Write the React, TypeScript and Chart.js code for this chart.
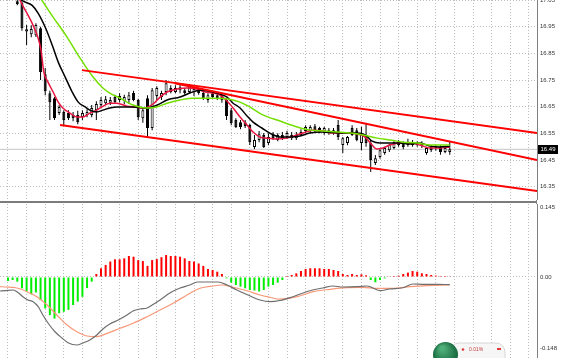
import React, { useEffect, useRef } from "react";
import { Chart, registerables } from "chart.js";

Chart.register(...registerables);

// ---------- price candles (index 0 = first candle on screen) ----------
const CANDLE_START = 0;
const OPEN = [17.045, 17.04, 16.932, 16.922, 16.918, 16.944, 16.772, 16.70, 16.682, 16.626, 16.63, 16.626, 16.619, 16.619, 16.611, 16.619, 16.619, 16.637, 16.656, 16.663, 16.665, 16.686, 16.675, 16.671, 16.675, 16.701, 16.675, 16.607, 16.682, 16.57, 16.69, 16.686, 16.705, 16.72, 16.705, 16.712, 16.712, 16.705, 16.705, 16.712, 16.701, 16.675, 16.70, 16.693, 16.69, 16.675, 16.637, 16.60, 16.592, 16.592, 16.581, 16.499, 16.525, 16.544, 16.514, 16.544, 16.525, 16.544, 16.536, 16.532, 16.532, 16.555, 16.559, 16.559, 16.577, 16.57, 16.551, 16.562, 16.551, 16.581, 16.506, 16.514, 16.57, 16.562, 16.514, 16.544, 16.514, 16.439, 16.461, 16.476, 16.487, 16.495, 16.506, 16.514, 16.506, 16.517, 16.506, 16.51, 16.476, 16.499, 16.495, 16.499, 16.48, 16.48];
const HIGH = [17.06, 17.06, 16.956, 16.955, 16.963, 16.95, 16.795, 16.71, 16.686, 16.656, 16.637, 16.637, 16.63, 16.635, 16.637, 16.64, 16.656, 16.67, 16.686, 16.69, 16.686, 16.695, 16.70, 16.695, 16.705, 16.71, 16.68, 16.645, 16.693, 16.72, 16.727, 16.71, 16.75, 16.73, 16.73, 16.735, 16.72, 16.735, 16.725, 16.72, 16.71, 16.70, 16.705, 16.70, 16.70, 16.682, 16.645, 16.607, 16.60, 16.60, 16.585, 16.544, 16.559, 16.551, 16.55, 16.555, 16.55, 16.555, 16.56, 16.555, 16.555, 16.565, 16.58, 16.58, 16.585, 16.575, 16.575, 16.57, 16.57, 16.60, 16.536, 16.54, 16.58, 16.57, 16.575, 16.589, 16.525, 16.469, 16.49, 16.50, 16.51, 16.52, 16.525, 16.52, 16.53, 16.525, 16.52, 16.52, 16.50, 16.505, 16.505, 16.505, 16.50, 16.52];
const LOW = [17.03, 16.935, 16.881, 16.91, 16.911, 16.75, 16.693, 16.60, 16.60, 16.619, 16.581, 16.60, 16.595, 16.584, 16.60, 16.61, 16.61, 16.60, 16.645, 16.656, 16.656, 16.66, 16.667, 16.66, 16.66, 16.67, 16.60, 16.59, 16.536, 16.562, 16.675, 16.675, 16.693, 16.70, 16.70, 16.70, 16.695, 16.70, 16.69, 16.695, 16.675, 16.665, 16.68, 16.675, 16.665, 16.60, 16.58, 16.57, 16.565, 16.57, 16.506, 16.491, 16.517, 16.495, 16.505, 16.525, 16.52, 16.525, 16.53, 16.525, 16.525, 16.54, 16.55, 16.55, 16.555, 16.55, 16.545, 16.545, 16.545, 16.525, 16.476, 16.505, 16.54, 16.52, 16.487, 16.50, 16.405, 16.431, 16.455, 16.47, 16.48, 16.49, 16.50, 16.49, 16.50, 16.50, 16.50, 16.495, 16.47, 16.48, 16.485, 16.47, 16.475, 16.47];
const CLOSE = [17.035, 16.944, 16.94, 16.941, 16.956, 16.78, 16.708, 16.667, 16.607, 16.649, 16.60, 16.607, 16.607, 16.592, 16.626, 16.63, 16.645, 16.66, 16.675, 16.678, 16.675, 16.667, 16.69, 16.686, 16.693, 16.675, 16.611, 16.637, 16.57, 16.712, 16.72, 16.701, 16.738, 16.705, 16.72, 16.723, 16.701, 16.727, 16.716, 16.701, 16.682, 16.693, 16.686, 16.682, 16.675, 16.615, 16.589, 16.574, 16.574, 16.577, 16.517, 16.525, 16.547, 16.499, 16.536, 16.532, 16.544, 16.532, 16.551, 16.544, 16.544, 16.544, 16.574, 16.574, 16.562, 16.555, 16.57, 16.551, 16.562, 16.536, 16.532, 16.536, 16.544, 16.525, 16.544, 16.514, 16.45, 16.457, 16.487, 16.495, 16.506, 16.517, 16.517, 16.499, 16.517, 16.506, 16.514, 16.502, 16.495, 16.487, 16.499, 16.48, 16.495, 16.49];

// ---------- moving averages (candle index, price) ----------
const FAST_MA_X = [0, 0.6, 2.1, 3.4, 4.4, 5.1, 5.7, 6.6, 7.7, 8.8, 9.8, 11.3, 12.8, 14.1, 15.6, 17.1, 18.2, 19.9, 21.4, 23.6, 25.3, 27.0, 29.2, 30.7, 32.2, 34.3, 36.5, 38.6, 40.4, 42.1, 43.6, 45.1, 46.4, 47.9, 49.4, 50.7, 52.2, 53.7, 55.8, 58.0, 60.1, 61.4, 63.6, 65.7, 67.9, 70.0, 73.1, 74.8, 76.3, 77.3, 78.6, 80.1, 82.3, 84.4, 86.6, 88.7, 90.9, 93.0];
const FAST_MA_Y = [17.079, 17.049, 17.0, 16.955, 16.911, 16.862, 16.78, 16.742, 16.705, 16.667, 16.645, 16.626, 16.611, 16.611, 16.626, 16.637, 16.649, 16.663, 16.663, 16.652, 16.649, 16.645, 16.66, 16.686, 16.705, 16.716, 16.72, 16.716, 16.705, 16.701, 16.693, 16.671, 16.645, 16.611, 16.581, 16.555, 16.536, 16.532, 16.529, 16.532, 16.544, 16.551, 16.562, 16.559, 16.551, 16.551, 16.547, 16.536, 16.506, 16.491, 16.495, 16.506, 16.514, 16.514, 16.506, 16.495, 16.495, 16.499];
const MID_MA_X = [-0.5, 1.0, 3.2, 4.5, 6.1, 7.5, 8.8, 10.3, 11.8, 13.1, 14.6, 15.6, 17.1, 18.4, 19.9, 21.4, 24.9, 27.9, 30.1, 32.2, 35.0, 37.1, 39.3, 41.4, 43.6, 45.1, 46.4, 47.9, 49.4, 50.7, 52.6, 54.3, 56.5, 58.6, 60.8, 62.9, 65.7, 70.0, 73.1, 74.8, 76.3, 78.0, 80.1, 82.3, 84.4, 86.6, 88.7, 90.9, 93.0];
const MID_MA_Y = [17.08, 17.049, 17.03, 17.0, 16.944, 16.881, 16.817, 16.761, 16.705, 16.667, 16.649, 16.637, 16.63, 16.637, 16.645, 16.649, 16.649, 16.645, 16.656, 16.675, 16.686, 16.701, 16.712, 16.708, 16.697, 16.686, 16.663, 16.645, 16.615, 16.592, 16.57, 16.551, 16.536, 16.536, 16.54, 16.551, 16.555, 16.551, 16.551, 16.544, 16.521, 16.514, 16.514, 16.514, 16.51, 16.514, 16.502, 16.499, 16.502];
const SLOW_MA_X = [3.4, 5.3, 7.7, 10.7, 13.5, 16.3, 18.4, 19.9, 22.1, 24.9, 27.9, 30.0, 32.2, 35.0, 37.8, 42.1, 45.7, 47.9, 50.0, 52.8, 56.5, 60.2, 63.0, 65.7, 68.8, 71.6, 74.3, 77.4, 80.2, 83.0, 86.0, 88.8, 93.0];
const SLOW_MA_Y = [17.102, 17.049, 16.986, 16.911, 16.832, 16.761, 16.72, 16.701, 16.682, 16.656, 16.645, 16.649, 16.663, 16.675, 16.682, 16.682, 16.678, 16.667, 16.649, 16.619, 16.596, 16.574, 16.562, 16.559, 16.555, 16.551, 16.544, 16.532, 16.525, 16.517, 16.514, 16.506, 16.506];

// ---------- trend channel ----------
const TREND_UPPER_X = [13.9, 111.8];
const TREND_UPPER_Y = [16.787, 16.551];
const TREND_MID_X = [33.9, 111.8];
const TREND_MID_Y = [16.738, 16.45];
const TREND_LOW_X = [9.2, 111.8];
const TREND_LOW_Y = [16.581, 16.334];

// ---------- MACD ----------
const HIST_START = -2;
const MACD_HIST = [-0.0083, -0.0062, -0.0097, -0.0235, -0.030, -0.036, -0.032, -0.048, -0.065, -0.079, -0.086, -0.075, -0.072, -0.068, -0.058, -0.051, -0.041, -0.023, -0.0097,
  0.0062, 0.018, 0.025, 0.032, 0.0366, 0.0366, 0.0386, 0.0435, 0.042, 0.035, 0.033, 0.023, 0.035, 0.037, 0.041, 0.0455, 0.0435, 0.0435, 0.042, 0.0386, 0.033, 0.032, 0.028, 0.023, 0.0166, 0.0145, 0.011, 0.0062,
  -0.0028, -0.0117, -0.0166, -0.020, -0.0235, -0.027, -0.028, -0.030, -0.027, -0.020, -0.0166, -0.0117, -0.0062,
  0.0021, 0.0041, 0.0076, 0.0124, 0.0166, 0.018, 0.018, 0.018, 0.0166, 0.0166, 0.0145, 0.0124, 0.0062, 0.0041, 0.0062, 0.0041, 0.0055, 0.0035, -0.0062, -0.011, -0.0062, -0.0028, 0.0014, 0.0021, 0.0028, 0.0062, 0.009, 0.0124, 0.011, 0.0076, 0.0062, 0.0041, 0.0028, 0.0021, 0.0021, 0.0014];
const MACD_LINE_X = [-3.7, -2.7, -0.9, 0.2, 1.2, 2.3, 3.4, 4.5, 5.5, 6.6, 8.1, 9.6, 10.9, 12.8, 14.1, 15.6, 17.1, 18.4, 19.9, 21.7, 23.6, 24.9, 26.4, 27.9, 29.0, 30.7, 32.8, 35.0, 37.1, 38.7, 40.8, 43.2, 45.1, 47.2, 49.6, 52.2, 54.3, 56.5, 59.3, 62.9, 65.7, 67.9, 70.0, 73.1, 75.2, 78.0, 80.1, 82.9, 85.1, 87.2, 90.2, 93.0];
const MACD_LINE_Y = [-0.029, -0.0284, -0.0269, -0.0325, -0.0408, -0.0476, -0.0511, -0.0615, -0.0787, -0.0952, -0.1133, -0.1263, -0.136, -0.1408, -0.1366, -0.1304, -0.1201, -0.1077, -0.0973, -0.089, -0.0787, -0.0704, -0.0663, -0.0642, -0.058, -0.0476, -0.0331, -0.0228, -0.0166, -0.0104, -0.0104, -0.0104, -0.0166, -0.0269, -0.0373, -0.0476, -0.0511, -0.0487, -0.0408, -0.0284, -0.0228, -0.0186, -0.0207, -0.0201, -0.0186, -0.0284, -0.0248, -0.0222, -0.0145, -0.0151, -0.0151, -0.0159];
const SIGNAL_X = [-3.7, -2.7, -0.1, 2.1, 4.2, 6.4, 8.5, 10.7, 12.8, 15.0, 17.1, 19.3, 22.1, 24.9, 27.9, 30.7, 33.5, 36.5, 39.3, 42.1, 44.0, 46.4, 49.4, 52.2, 54.3, 56.5, 60.2, 63.6, 67.3, 70.9, 74.3, 77.4, 80.8, 84.5, 88.1, 93.0];
const SIGNAL_Y = [-0.020, -0.0207, -0.0228, -0.0304, -0.0408, -0.058, -0.0787, -0.0994, -0.1133, -0.1222, -0.1236, -0.1166, -0.1062, -0.0959, -0.0822, -0.0683, -0.0545, -0.0373, -0.0234, -0.0186, -0.0166, -0.0213, -0.0284, -0.0373, -0.042, -0.046, -0.0408, -0.0304, -0.0255, -0.0222, -0.0213, -0.0234, -0.0234, -0.0201, -0.018, -0.0166];

// ---------- axes ----------
const PRICE_TICKS = [16.35, 16.45, 16.55, 16.65, 16.75, 16.85, 16.95, 17.05];
const MACD_TICKS = [0.145, 0, -0.148];
const PRICE_MIN = 16.30;
const PRICE_MAX = 17.05;
const MACD_MIN = -0.1677;
const MACD_MAX = 0.1511;
const X_MIN = -3.72;
const X_MAX = 111.76;
const X_GRID_FIRST = -2;
const X_GRID_STEP = 4;

// ---------- styles ----------
const FONT_FAMILY = "'Liberation Sans', Arial, sans-serif";
const GRID_COLOR = "#bdbdbd";
const AXIS_COLOR = "#808080";
const LABEL_COLOR = "#333333";
const AXIS_WIDTH = 28;

const pts = (xs: number[], ys: number[]) => xs.map((x, k) => ({ x, y: ys[k] }));

const xGridTicks = () => {
  const out: { value: number }[] = [];
  for (let v = X_GRID_FIRST; v <= X_MAX; v += X_GRID_STEP) out.push({ value: v });
  return out;
};

const xScale = () => ({
  type: "linear" as const,
  min: X_MIN,
  max: X_MAX,
  offset: false,
  afterBuildTicks: (axis: any) => { axis.ticks = xGridTicks(); },
  afterFit: (axis: any) => {
    axis.height = 0;
    axis.paddingLeft = 0;
    axis.paddingRight = 0;
    axis.paddingTop = 0;
    axis.paddingBottom = 0;
  },
  ticks: { display: false },
  grid: { color: GRID_COLOR, lineWidth: 1, drawTicks: false, offset: false },
  border: { display: false, dash: [1, 2] },
});

const yFit = (axis: any) => {
  axis.width = AXIS_WIDTH;
  axis.paddingTop = 0;
  axis.paddingBottom = 0;
  axis.paddingLeft = 0;
  axis.paddingRight = 0;
};

const lineDs = (data: any[], color: string, width: number, order: number, smooth = true) => ({
  type: "line" as const,
  data,
  borderColor: color,
  backgroundColor: color,
  borderWidth: width,
  pointRadius: 0,
  fill: false,
  cubicInterpolationMode: smooth ? ("monotone" as const) : ("default" as const),
  order,
  clip: 0,
});

const priceBoxPlugin = {
  id: "priceBox",
  afterDraw(chart: any) {
    const ctx = chart.ctx;
    const last = CLOSE[CLOSE.length - 1];
    const y = Math.round(chart.scales.y.getPixelForValue(last));
    const x0 = chart.chartArea.right + 1;
    ctx.save();
    ctx.fillStyle = "#000";
    ctx.fillRect(x0, y - 4, 20, 9);
    ctx.fillStyle = "#fff";
    ctx.font = `6px ${FONT_FAMILY}`;
    ctx.textBaseline = "middle";
    ctx.textAlign = "left";
    ctx.fillText(last.toFixed(2), x0 + 2.5, y + 0.5);
    ctx.restore();
  },
};

const badgePlugin = {
  id: "badge",
  afterDraw(chart: any) {
    const ctx = chart.ctx;
    ctx.save();
    const rr = (x: number, y: number, w: number, h: number, r: number) => {
      ctx.beginPath();
      ctx.moveTo(x + r, y);
      ctx.lineTo(x + w - r, y);
      ctx.arcTo(x + w, y, x + w, y + r, r);
      ctx.lineTo(x + w, y + h - r);
      ctx.arcTo(x + w, y + h, x + w - r, y + h, r);
      ctx.lineTo(x + r, y + h);
      ctx.arcTo(x, y + h, x, y + h - r, r);
      ctx.lineTo(x, y + r);
      ctx.arcTo(x, y, x + r, y, r);
      ctx.closePath();
    };
    rr(450, 139, 55, 24, 9);
    ctx.fillStyle = "#f6f6f6";
    ctx.fill();
    ctx.strokeStyle = "#d6d6d6";
    ctx.lineWidth = 1;
    ctx.stroke();
    ctx.fillStyle = "#e03a3a";
    ctx.beginPath();
    ctx.arc(463, 145.5, 1.3, 0, Math.PI * 2);
    ctx.fill();
    ctx.font = `5px ${FONT_FAMILY}`;
    ctx.fillStyle = "#c84040";
    ctx.textBaseline = "middle";
    ctx.fillText("0.01%", 469, 145.5);
    ctx.fillStyle = "#e03a3a";
    ctx.fillRect(497, 144, 4, 2);
    const g = ctx.createRadialGradient(442, 144, 2, 445.5, 150, 13);
    g.addColorStop(0, "#4eae78");
    g.addColorStop(1, "#14643a");
    ctx.fillStyle = g;
    ctx.beginPath();
    ctx.arc(445.5, 150.5, 12.5, 0, Math.PI * 2);
    ctx.fill();
    ctx.restore();
  },
};

function mainConfig(): any {
  const idx = OPEN.map((_, k) => CANDLE_START + k);
  const wicks = idx.map((x, k) => ({ x, y: [LOW[k], HIGH[k]] }));
  const bodies = idx.map((x, k) => ({ x, y: [OPEN[k], CLOSE[k]] }));
  const bodyFill = CLOSE.map((c, k) => (c >= OPEN[k] ? "#ffffff" : "#000000"));
  const last = CLOSE[CLOSE.length - 1];
  return {
    type: "bar",
    data: {
      datasets: [
        lineDs(pts(TREND_UPPER_X, TREND_UPPER_Y), "#ff0000", 2, 0, false),
        lineDs(pts(TREND_MID_X, TREND_MID_Y), "#ff0000", 2, 0, false),
        lineDs(pts(TREND_LOW_X, TREND_LOW_Y), "#ff0000", 2, 0, false),
        lineDs(pts(SLOW_MA_X, SLOW_MA_Y), "#74e000", 1.5, 1),
        lineDs(pts(MID_MA_X, MID_MA_Y), "#000000", 1.5, 1),
        lineDs(pts(FAST_MA_X, FAST_MA_Y), "#e8163f", 1.5, 1),
        {
          type: "bar",
          data: bodies,
          backgroundColor: bodyFill,
          borderColor: "#000000",
          borderWidth: 1,
          borderSkipped: false,
          barThickness: 3,
          grouped: false,
          inflateAmount: 0,
          order: 3,
        },
        {
          type: "bar",
          data: wicks,
          backgroundColor: "#000000",
          borderWidth: 0,
          barThickness: 1,
          grouped: false,
          inflateAmount: 0,
          order: 4,
        },
        lineDs([{ x: X_MIN, y: last }, { x: X_MAX, y: last }], "#c6c6c6", 1, 6, false),
      ],
    },
    options: {
      animation: false,
      responsive: false,
      maintainAspectRatio: false,
      devicePixelRatio: 1,
      events: [],
      layout: { padding: 0 },
      plugins: { legend: { display: false }, tooltip: { enabled: false } },
      scales: {
        x: xScale(),
        y: {
          type: "linear",
          position: "right",
          min: PRICE_MIN,
          max: PRICE_MAX,
          beginAtZero: false,
          afterBuildTicks: (axis: any) => { axis.ticks = PRICE_TICKS.map((v) => ({ value: v })); },
          afterFit: yFit,
          ticks: {
            autoSkip: false,
            padding: 3,
            color: LABEL_COLOR,
            font: { size: 6, family: FONT_FAMILY },
            callback: (v: any) => Number(v).toFixed(2),
          },
          grid: { color: GRID_COLOR, lineWidth: 1, drawTicks: false },
          border: { display: true, color: AXIS_COLOR, width: 1, dash: [1, 2] },
        },
      },
    },
    plugins: [priceBoxPlugin],
  };
}

function macdConfig(): any {
  const hist = MACD_HIST.map((v, k) => ({ x: HIST_START + k, y: v }));
  const histColor = MACD_HIST.map((v) => (v >= 0 ? "#ff0000" : "#00ee00"));
  return {
    type: "bar",
    data: {
      datasets: [
        lineDs(pts(MACD_LINE_X, MACD_LINE_Y), "#6e6e6e", 1.2, 0),
        lineDs(pts(SIGNAL_X, SIGNAL_Y), "#f79878", 1.2, 1),
        {
          type: "bar",
          data: hist,
          backgroundColor: histColor,
          borderWidth: 0,
          barThickness: 2,
          grouped: false,
          inflateAmount: 0,
          order: 3,
        },
      ],
    },
    options: {
      animation: false,
      responsive: false,
      maintainAspectRatio: false,
      devicePixelRatio: 1,
      events: [],
      layout: { padding: 0 },
      plugins: { legend: { display: false }, tooltip: { enabled: false } },
      scales: {
        x: xScale(),
        y: {
          type: "linear",
          position: "right",
          min: MACD_MIN,
          max: MACD_MAX,
          beginAtZero: false,
          afterBuildTicks: (axis: any) => { axis.ticks = MACD_TICKS.map((v) => ({ value: v })); },
          afterFit: yFit,
          ticks: {
            autoSkip: false,
            padding: 3,
            color: LABEL_COLOR,
            font: { size: 6, family: FONT_FAMILY },
            callback: (v: any) => (Number(v) === 0 ? "0.00" : String(v)),
          },
          grid: {
            color: (c: any) => (c.tick && c.tick.value === 0 ? GRID_COLOR : "rgba(0,0,0,0)"),
            lineWidth: 1,
            drawTicks: false,
          },
          border: { display: true, color: AXIS_COLOR, width: 1, dash: [1, 2] },
        },
      },
    },
    plugins: [badgePlugin],
  };
}

export default function App() {
  const mainRef = useRef<HTMLCanvasElement>(null);
  const macdRef = useRef<HTMLCanvasElement>(null);

  useEffect(() => {
    const main = new Chart(mainRef.current as HTMLCanvasElement, mainConfig());
    const macd = new Chart(macdRef.current as HTMLCanvasElement, macdConfig());
    return () => {
      main.destroy();
      macd.destroy();
    };
  }, []);

  return (
    <div style={{ position: "fixed", left: 0, top: 0, width: 565, height: 358, background: "#ffffff", overflow: "hidden" }}>
      <canvas ref={mainRef} width={565} height={200} style={{ position: "absolute", left: 0, top: 0 }} />
      <div style={{ position: "absolute", left: 0, top: 201, width: 537, height: 2, background: "#7c7c7c" }} />
      <div style={{ position: "absolute", left: 536, top: 200, width: 1, height: 4, background: AXIS_COLOR }} />
      <canvas ref={macdRef} width={565} height={154} style={{ position: "absolute", left: 0, top: 204 }} />
    </div>
  );
}
